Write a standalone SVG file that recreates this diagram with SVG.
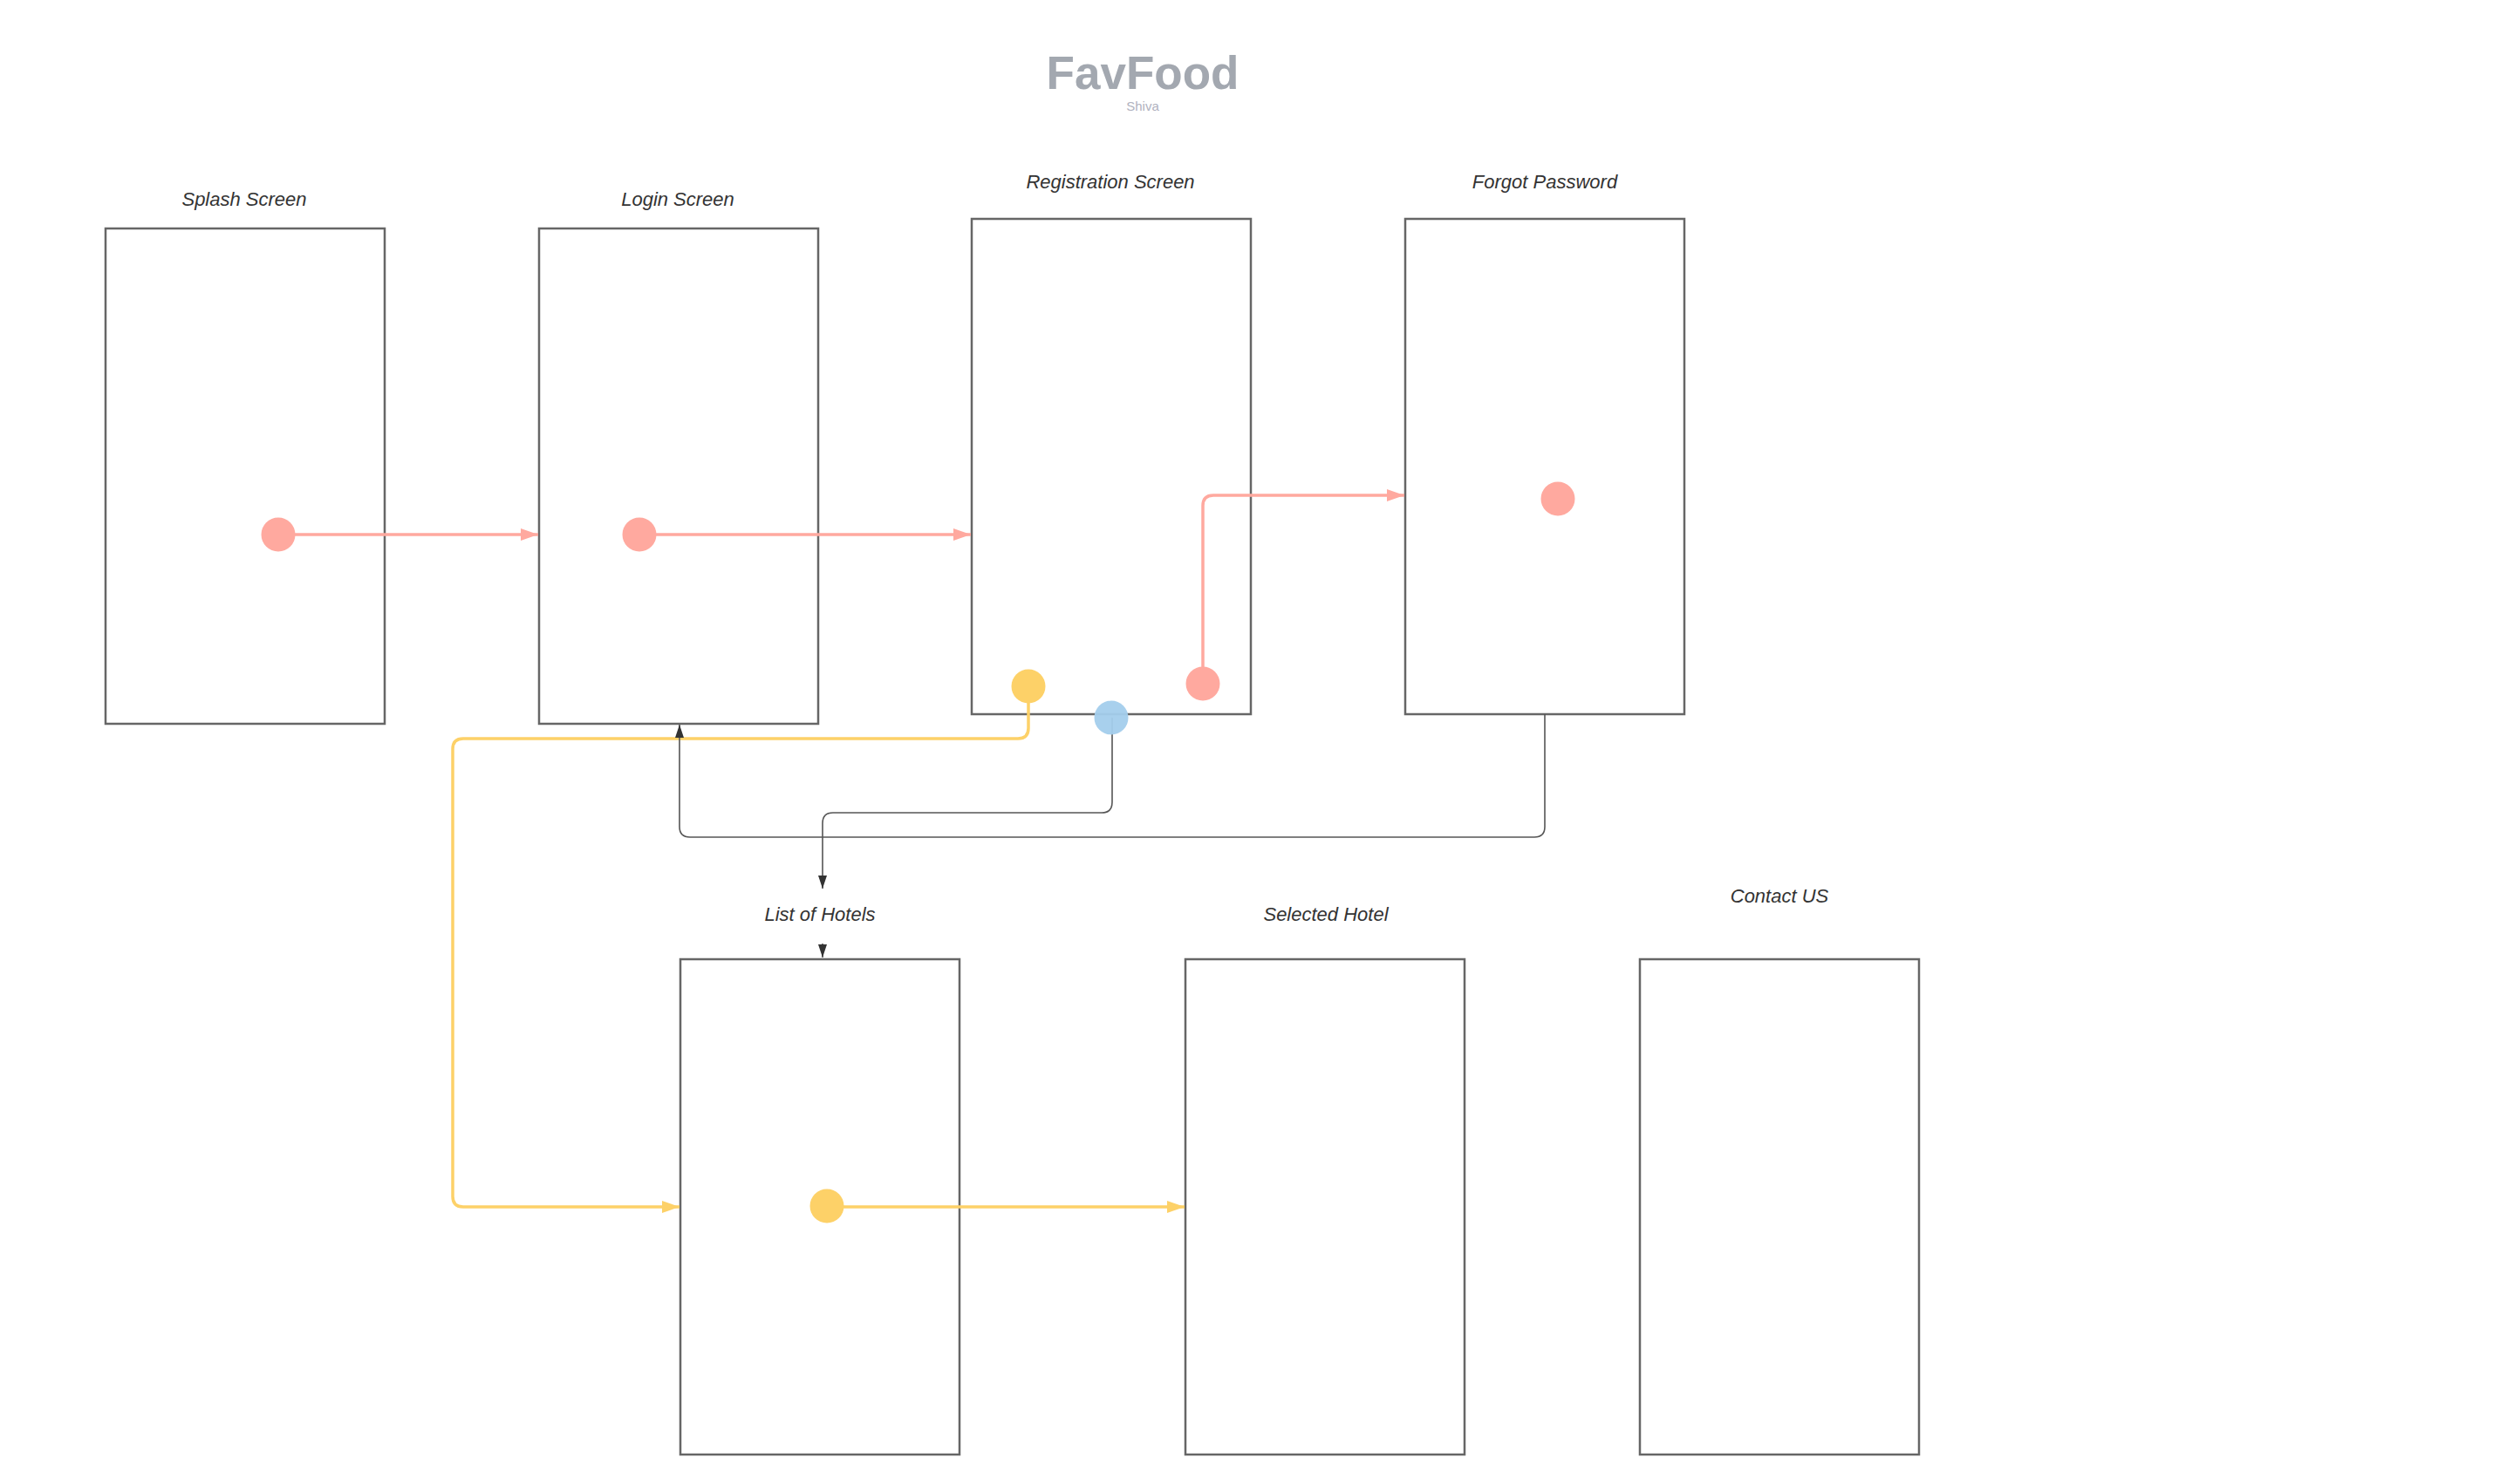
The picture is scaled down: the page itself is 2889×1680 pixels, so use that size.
<svg xmlns="http://www.w3.org/2000/svg" width="2889" height="1680" viewBox="0 0 2889 1680">
<style>
.box{fill:#fff;stroke:#666;stroke-width:2.5}
.lbl{font-family:"Liberation Sans",Arial,sans-serif;font-style:italic;font-size:22px;fill:#333;text-anchor:middle}
.red{fill:none;stroke:#ffa99f;stroke-width:3.5}
.yel{fill:none;stroke:#fdd168;stroke-width:3.5}
.dk{fill:none;stroke:#555;stroke-width:1.6}
</style>
<defs>
<marker id="ar" markerUnits="userSpaceOnUse" markerWidth="22" markerHeight="14" refX="20" refY="7" orient="auto"><path d="M0,0 L20,7 L0,14 Z" fill="#ffa99f"/></marker>
<marker id="ay" markerUnits="userSpaceOnUse" markerWidth="22" markerHeight="14" refX="20" refY="7" orient="auto"><path d="M0,0 L20,7 L0,14 Z" fill="#fdd168"/></marker>
<marker id="ad" markerUnits="userSpaceOnUse" markerWidth="16" markerHeight="10" refX="15" refY="5" orient="auto"><path d="M0,0 L15,5 L0,10 Z" fill="#333"/></marker>
</defs>
<rect width="2889" height="1680" fill="#fff"/>
<g id="title">
<text x="1310" y="102" font-family="Liberation Sans,Arial,sans-serif" font-weight="bold" font-size="53" fill="#a3a8b0" text-anchor="middle">FavFood</text>
<text x="1310" y="127" font-family="Liberation Sans,Arial,sans-serif" font-size="15" fill="#b0b2c0" text-anchor="middle">Shiva</text>
</g>
<g id="splash"><text class="lbl" x="280" y="236">Splash Screen</text><rect class="box" x="121" y="262" width="320" height="568"/></g>
<g id="login"><text class="lbl" x="777" y="236">Login Screen</text><rect class="box" x="618" y="262" width="320" height="568"/></g>
<g id="registration"><text class="lbl" x="1273" y="216">Registration Screen</text><rect class="box" x="1114" y="251" width="320" height="568"/></g>
<g id="forgot"><text class="lbl" x="1771" y="216">Forgot Password</text><rect class="box" x="1611" y="251" width="320" height="568"/></g>
<g id="hotels"><text class="lbl" x="940" y="1056">List of Hotels</text><rect class="box" x="780" y="1100" width="320" height="568"/></g>
<g id="selected"><text class="lbl" x="1520" y="1056">Selected Hotel</text><rect class="box" x="1359" y="1100" width="320" height="568"/></g>
<g id="contact"><text class="lbl" x="2040" y="1035">Contact US</text><rect class="box" x="1880" y="1100" width="320" height="568"/></g>
<g id="connectors">
<path class="red" d="M319,613 L617,613" marker-end="url(#ar)"/>
<path class="red" d="M733,613 L1113,613" marker-end="url(#ar)"/>
<path class="red" d="M1379,784 L1379,580 Q1379,568 1391,568 L1610,568" marker-end="url(#ar)"/>
<path class="yel" d="M1179,787 L1179,835 Q1179,847 1167,847 L531,847 Q519,847 519,859 L519,1372 Q519,1384 531,1384 L779,1384" marker-end="url(#ay)"/>
<path class="yel" d="M950,1384 L1358,1384" marker-end="url(#ay)"/>
<path class="dk" d="M1771,819 L1771,948 Q1771,960 1759,960 L791,960 Q779,960 779,948 L779,831" marker-end="url(#ad)"/>
<path class="dk" d="M1275,823 L1275,920 Q1275,932 1263,932 L955,932 Q943,932 943,944 L943,1019" marker-end="url(#ad)"/>
<path class="dk" d="M943,1082 L943,1098" marker-end="url(#ad)"/>
<circle cx="319" cy="613" r="19.5" fill="#ffa99f"/>
<circle cx="733" cy="613" r="19.5" fill="#ffa99f"/>
<circle cx="1379" cy="784" r="19.5" fill="#ffa99f"/>
<circle cx="1786" cy="572" r="19.5" fill="#ffa99f"/>
<circle cx="1179" cy="787" r="19.5" fill="#fdd168"/>
<circle cx="948" cy="1383" r="19.5" fill="#fdd168"/>
<circle cx="1274" cy="823" r="19.5" fill="#a3cdec" fill-opacity="0.95"/>
</g>
</svg>
